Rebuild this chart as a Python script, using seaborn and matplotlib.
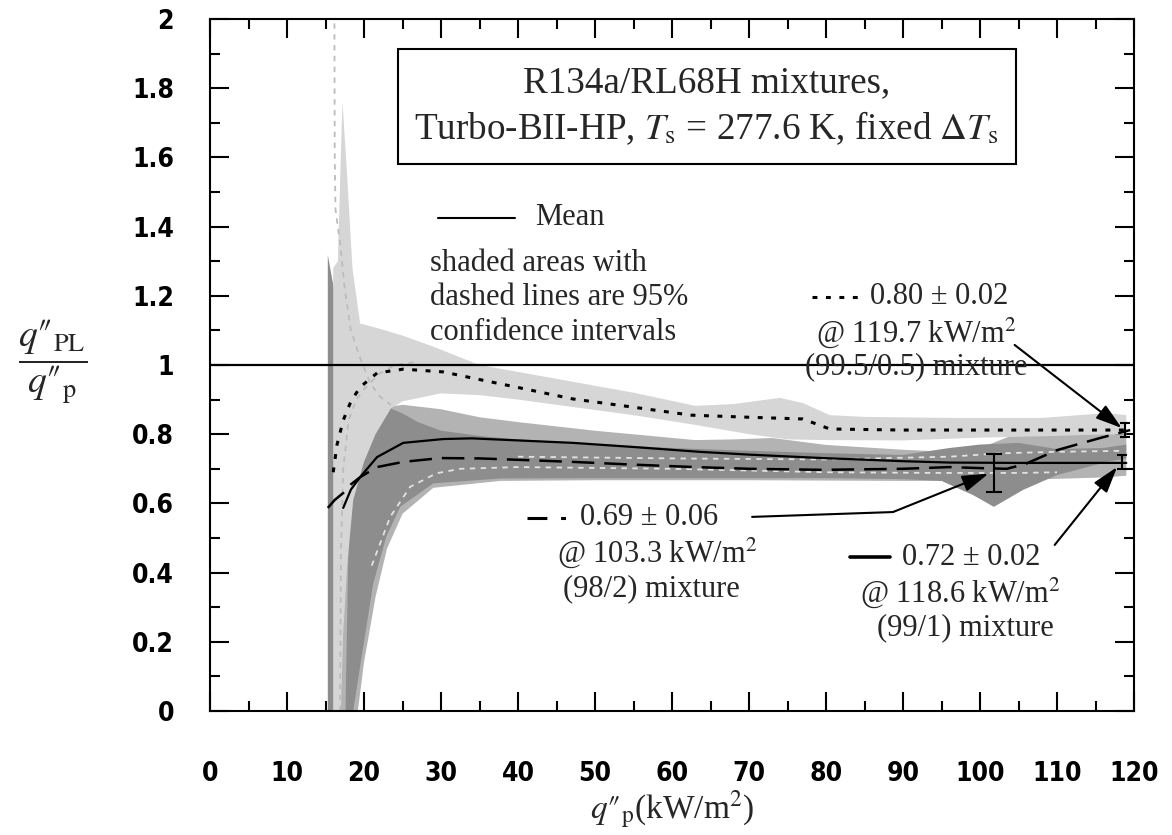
import matplotlib
matplotlib.use("Agg")
import matplotlib.pyplot as plt
import numpy as np
import seaborn as sns
from matplotlib.ticker import MultipleLocator

# ---- values ----
# (99.5/0.5) mixture: dotted mean, light band
a_mean_x = [16.0, 16.5, 17.3, 18.3, 19.5, 21.7, 25.1, 30.3, 35.0, 40.0, 47.1, 55.0, 62.5, 70.0, 77.0, 78.8, 80.5, 90.0, 100.0, 110.0, 118.8]
a_mean_y = [0.69, 0.77, 0.84, 0.895, 0.936, 0.977, 0.988, 0.98, 0.958, 0.935, 0.902, 0.878, 0.855, 0.849, 0.844, 0.829, 0.815, 0.812, 0.812, 0.812, 0.812]
a_hi_x = [16.0, 16.6, 17.2, 17.75, 18.5, 19.5, 22.0, 25.0, 29.0, 35.0, 40.0, 45.0, 50.0, 55.0, 63.0, 68.0, 74.0, 77.0, 80.5, 85.0, 96.0, 108.0, 116.5, 119.0]
a_hi_y = [1.28, 1.30, 1.76, 1.57, 1.28, 1.12, 1.105, 1.085, 1.053, 1.0, 0.98, 0.96, 0.94, 0.92, 0.882, 0.887, 0.905, 0.89, 0.855, 0.85, 0.847, 0.847, 0.861, 0.855]
a_lo_x = [16.0, 17.0, 17.3, 17.8, 18.6, 20.0, 21.5, 23.5, 25.0, 30.0, 35.0, 40.0, 45.0, 50.0, 55.0, 63.0, 70.0, 75.0, 80.0, 90.0, 100.0, 110.0, 116.0, 119.0]
a_lo_y = [0.0, 0.0, 0.225, 0.416, 0.61, 0.72, 0.80, 0.875, 0.895, 0.918, 0.913, 0.90, 0.885, 0.87, 0.855, 0.827, 0.80, 0.785, 0.783, 0.782, 0.79, 0.795, 0.80, 0.80]
a_ci_hi_x = [16.15, 16.2, 16.3, 16.9, 17.5, 18.3, 19.5, 20.8, 22.1, 23.5]
a_ci_hi_y = [2.05, 1.6, 1.45, 1.35, 1.22, 1.10, 1.02, 0.948, 0.908, 0.885]
a_ci_lo_x = [16.9, 17.0, 17.3, 18.0, 19.0, 20.0, 20.8, 22.0, 24.0, 27.0]
a_ci_lo_y = [0.0, 0.45, 0.7, 0.84, 0.9, 0.93, 0.948, 0.975, 1.0, 1.01]

# (99/1) mixture: solid mean, medium band
b_mean_x = [17.3, 18.3, 19.5, 21.7, 25.1, 30.3, 34.0, 40.0, 47.1, 55.0, 63.6, 70.0, 79.6, 90.0, 96.1, 105.0, 112.0, 119.0]
b_mean_y = [0.587, 0.64, 0.676, 0.734, 0.775, 0.786, 0.788, 0.782, 0.775, 0.763, 0.749, 0.741, 0.731, 0.722, 0.718, 0.717, 0.717, 0.717]
b_hi_x = [17.0, 18.0, 19.0, 20.5, 22.0, 23.6, 25.0, 27.0, 30.0, 35.0, 40.0, 50.0, 63.0, 68.0, 73.0, 80.0, 90.0, 96.0, 100.0, 104.0, 110.0, 116.0, 119.0]
b_hi_y = [0.3, 0.55, 0.7, 0.8, 0.855, 0.88, 0.885, 0.88, 0.872, 0.849, 0.835, 0.81, 0.783, 0.785, 0.789, 0.769, 0.755, 0.749, 0.76, 0.795, 0.80, 0.80, 0.80]
b_lo_x = [17.0, 19.2, 20.0, 21.5, 23.0, 25.0, 29.0, 37.7, 50.0, 70.0, 90.0, 100.0, 105.0, 110.0, 116.0, 119.0]
b_lo_y = [0.0, 0.0, 0.14, 0.33, 0.47, 0.57, 0.645, 0.665, 0.667, 0.667, 0.665, 0.665, 0.668, 0.671, 0.675, 0.68]

# (98/2) mixture: long-dashed mean, dark band
c_mean_x = [15.3, 16.2, 17.3, 18.3, 19.5, 21.7, 25.1, 29.9, 35.0, 40.0, 47.1, 55.0, 63.0, 70.0, 79.6, 90.0, 96.1, 100.0, 103.5, 106.0, 110.0, 115.6, 119.5]
c_mean_y = [0.587, 0.61, 0.63, 0.655, 0.676, 0.705, 0.72, 0.731, 0.73, 0.726, 0.72, 0.712, 0.705, 0.70, 0.697, 0.70, 0.705, 0.702, 0.70, 0.715, 0.754, 0.789, 0.812]
c_hi_x = [15.3, 16.1, 16.2, 17.6, 18.0, 19.0, 20.5, 22.0, 23.4, 25.0, 27.0, 30.0, 35.0, 40.0, 50.0, 60.0, 70.0, 80.0, 90.0, 96.0, 100.0, 105.0, 110.0, 116.0, 119.0]
c_hi_y = [1.318, 1.22, 0.0, 0.0, 0.5, 0.7, 0.8, 0.85, 0.875, 0.86, 0.835, 0.81, 0.795, 0.785, 0.772, 0.76, 0.752, 0.745, 0.74, 0.76, 0.77, 0.775, 0.757, 0.76, 0.77]
c_lo_x = [15.3, 16.1, 18.6, 19.5, 21.2, 22.9, 24.7, 29.0, 37.7, 50.0, 60.0, 70.0, 80.0, 90.0, 95.0, 99.1, 101.8, 105.6, 110.0, 116.5, 119.0]
c_lo_y = [0.0, 0.0, 0.0, 0.13, 0.369, 0.504, 0.59, 0.658, 0.672, 0.673, 0.673, 0.673, 0.673, 0.67, 0.665, 0.624, 0.59, 0.639, 0.682, 0.72, 0.73]
c_ci_lo_x = [21.0, 23.4, 26.0, 29.4, 32.5, 40.0, 60.0, 80.0, 95.0, 105.0, 110.0]
c_ci_lo_y = [0.42, 0.561, 0.648, 0.687, 0.70, 0.705, 0.70, 0.69, 0.688, 0.688, 0.69]
c_ci_hi_x = [40.0, 60.0, 80.0, 96.0, 103.0, 110.0, 118.5]
c_ci_hi_y = [0.735, 0.73, 0.727, 0.735, 0.745, 0.749, 0.752]

# end-point values with uncertainty: (99.5/0.5), (99/1), (98/2)
bar_x = [118.8, 118.5, 101.8]
bar_y = [0.812, 0.72, 0.687]
bar_err = [0.02, 0.02, 0.055]

x_ticks = list(range(0, 121, 10))
x_tick_labels = [str(v) for v in x_ticks]
y_ticks = [0, 0.2, 0.4, 0.6, 0.8, 1.0, 1.2, 1.4, 1.6, 1.8, 2.0]
y_tick_labels = ["0", "0.2", "0.4", "0.6", "0.8", "1", "1.2", "1.4", "1.6", "1.8", "2"]

# ---- figure ----
sns.set_style("ticks")
plt.rcParams["font.family"] = ["Liberation Serif", "DejaVu Serif"]
plt.rcParams["mathtext.fontset"] = "stix"

LIGHT, MEDIUM, DARK = "#d6d6d6", "#b3b3b3", "#8d8d8d"

fig = plt.figure(figsize=(11.72, 8.35), dpi=100)
ax = fig.add_axes([210 / 1172, 1 - 711 / 835, 924 / 1172, 692 / 835])


def band(xh, yh, xl, yl, color):
    ax.fill(np.r_[xh, xl[::-1]], np.r_[yh, yl[::-1]], color=color, lw=0, zorder=1)


# order matters: medium, dark, then light on top
band(b_hi_x, b_hi_y, b_lo_x, b_lo_y, MEDIUM)
band(c_hi_x, c_hi_y, c_lo_x, c_lo_y, DARK)
band(a_hi_x, a_hi_y, a_lo_x, a_lo_y, LIGHT)

# confidence interval lines
ci_kw = dict(ax=ax, estimator=None, sort=False, legend=False, lw=1.3, zorder=2)
sns.lineplot(x=a_ci_hi_x, y=a_ci_hi_y, color="#bcbcbc", linestyle=(0, (3, 3)), **ci_kw)
sns.lineplot(x=a_ci_lo_x, y=a_ci_lo_y, color="#bcbcbc", linestyle=(0, (3, 3)), **ci_kw)
sns.lineplot(x=c_ci_lo_x, y=c_ci_lo_y, color="#e2e2e2", linestyle=(0, (3, 3)), **ci_kw)
sns.lineplot(x=c_ci_hi_x, y=c_ci_hi_y, color="#e2e2e2", linestyle=(0, (3, 3)), **ci_kw)

ax.axhline(1.0, color="black", lw=1.6, zorder=3)

# mean curves
m_kw = dict(ax=ax, estimator=None, sort=False, legend=False, color="black", zorder=4)
sns.lineplot(x=a_mean_x, y=a_mean_y, lw=2.2, linestyle=(0, (1.6, 2.8)), **m_kw)
sns.lineplot(x=b_mean_x, y=b_mean_y, lw=1.6, linestyle="-", **m_kw)
sns.lineplot(x=c_mean_x, y=c_mean_y, lw=1.8, linestyle=(0, (9, 4)), **m_kw)

ax.errorbar(bar_x[:2], bar_y[:2], yerr=bar_err[:2], fmt="none", ecolor="black",
            elinewidth=1.5, capsize=3.5, capthick=1.5, zorder=5)
ax.errorbar(bar_x[2:], bar_y[2:], yerr=bar_err[2:], fmt="none", ecolor="black",
            elinewidth=1.5, capsize=6, capthick=1.5, zorder=5)

# ---- text ----
ax.text(64.5, 1.747,
        "R134a/RL68H mixtures,\nTurbo-BII-HP, $T_\\mathrm{s}$ = 277.6 K, fixed $\\Delta T_\\mathrm{s}$",
        ha="center", va="center", fontsize=26.7, linespacing=1.3,
        bbox=dict(boxstyle="square,pad=0.45", fc="white", ec="black", lw=1.5), zorder=6)

FS = 22
ax.plot([29.6, 39.6], [1.425, 1.425], color="black", lw=1.5)
ax.text(42.2, 1.425, "Mean", ha="left", va="center", fontsize=FS)
ax.text(28.6, 1.194, "shaded areas with\ndashed lines are 95%\nconfidence intervals",
        ha="left", va="center", fontsize=FS, linespacing=1.25)

ax.plot([78.2, 84.2], [1.197, 1.197], color="black", lw=2.2, linestyle=(0, (1.6, 2.8)))
ax.text(85.7, 1.197, "0.80 ± 0.02", ha="left", va="center", fontsize=FS)
ax.text(91.7, 1.092, "@ 119.7 kW/m$^2$", ha="center", va="center", fontsize=FS)
ax.text(91.7, 0.994, "(99.5/0.5) mixture", ha="center", va="center", fontsize=FS)

ax.plot([41.2, 46.4], [0.558, 0.558], color="black", lw=2.2, linestyle=(0, (6.5, 4.5, 1.6, 4.5)))
ax.text(48.05, 0.558, "0.69 ± 0.06", ha="left", va="center", fontsize=FS)
ax.text(58.05, 0.457, "@ 103.3 kW/m$^2$", ha="center", va="center", fontsize=FS)
ax.text(57.3, 0.353, "(98/2) mixture", ha="center", va="center", fontsize=FS)

ax.plot([83.1, 88.3], [0.445, 0.445], color="black", lw=2.6)
ax.text(89.9, 0.445, "0.72 ± 0.02", ha="left", va="center", fontsize=FS)
ax.text(97.4, 0.341, "@ 118.6 kW/m$^2$", ha="center", va="center", fontsize=FS)
ax.text(98.05, 0.240, "(99/1) mixture", ha="center", va="center", fontsize=FS)

arrow = dict(arrowstyle="-|>,head_length=0.8,head_width=0.25", color="black",
             lw=1.5, mutation_scale=20, shrinkA=0, shrinkB=0)
ax.annotate("", xy=(118.4, 0.818), xytext=(104.5, 1.058), arrowprops=arrow, zorder=6)
ax.plot([70.4, 88.7], [0.561, 0.575], color="black", lw=1.5)
ax.annotate("", xy=(101.1, 0.686), xytext=(88.7, 0.575), arrowprops=arrow, zorder=6)
ax.annotate("", xy=(117.8, 0.705), xytext=(109.7, 0.48), arrowprops=arrow, zorder=6)

# ---- axes ----
ax.set_xlim(0, 120)
ax.set_ylim(0, 2)
ax.set_xticks(x_ticks, labels=x_tick_labels)
ax.set_yticks(y_ticks, labels=y_tick_labels)
ax.xaxis.set_minor_locator(MultipleLocator(5))
ax.yaxis.set_minor_locator(MultipleLocator(0.1))
ax.tick_params(which="both", direction="in", top=True, right=True, width=1.5, colors="black")
ax.tick_params(which="major", length=14)
ax.tick_params(which="minor", length=7)
ax.tick_params(axis="x", pad=36)
ax.tick_params(axis="y", pad=26)
for lab in ax.get_xticklabels() + ax.get_yticklabels():
    lab.set_fontfamily(["DejaVu Sans"])
    lab.set_fontweight("bold")
    lab.set_fontstretch("condensed")
    lab.set_fontsize(19)
for s in ax.spines.values():
    s.set_linewidth(1.5)
    s.set_color("black")

ax.set_ylabel("$\\dfrac{q\u2033_{\\mathrm{PL}}}{q\u2033_{\\mathrm{p}}}$", rotation=0, fontsize=27,
              ha="center", va="center")
ax.yaxis.set_label_coords(-0.17, 0.504)
ax.set_xlabel("$q\u2033_{\\mathrm{p}}$(kW/m$^2$)", fontsize=24, va="center")
ax.xaxis.set_label_coords(0.5, -0.143)

fig.savefig("out.png", dpi=100)
